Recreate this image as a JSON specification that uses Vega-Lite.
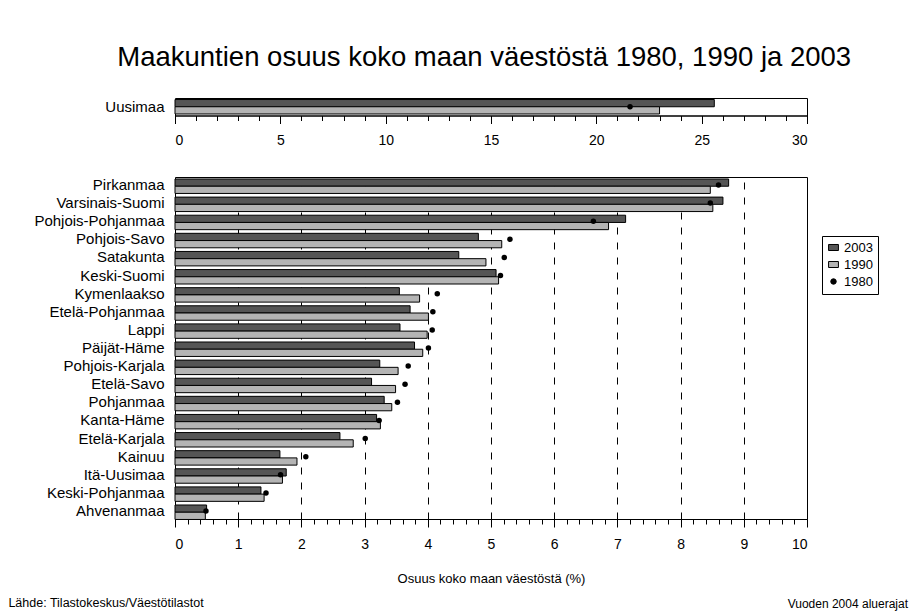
{
  "$schema": "https://vega.github.io/schema/vega-lite/v6.json",
  "background": "white",
  "padding": {"left": 8, "top": 44, "right": 10, "bottom": 2},
  "title": {
    "text": "Maakuntien osuus koko maan väestöstä 1980, 1990 ja 2003",
    "font": "Liberation Sans",
    "fontSize": 27.5,
    "fontWeight": "normal",
    "color": "black",
    "anchor": "middle",
    "dx": 26,
    "offset": 26
  },
  "datasets": {
    "uusimaa": [
      {"region": "Uusimaa", "year": "2003", "value": 25.6},
      {"region": "Uusimaa", "year": "1990", "value": 23.0},
      {"region": "Uusimaa", "year": "1980", "value": 21.6}
    ],
    "main": [
      {"region": "Pirkanmaa", "year": "2003", "value": 8.76},
      {"region": "Pirkanmaa", "year": "1990", "value": 8.47},
      {"region": "Pirkanmaa", "year": "1980", "value": 8.6},
      {"region": "Varsinais-Suomi", "year": "2003", "value": 8.67},
      {"region": "Varsinais-Suomi", "year": "1990", "value": 8.51},
      {"region": "Varsinais-Suomi", "year": "1980", "value": 8.47},
      {"region": "Pohjois-Pohjanmaa", "year": "2003", "value": 7.13},
      {"region": "Pohjois-Pohjanmaa", "year": "1990", "value": 6.86},
      {"region": "Pohjois-Pohjanmaa", "year": "1980", "value": 6.62},
      {"region": "Pohjois-Savo", "year": "2003", "value": 4.8},
      {"region": "Pohjois-Savo", "year": "1990", "value": 5.17},
      {"region": "Pohjois-Savo", "year": "1980", "value": 5.3},
      {"region": "Satakunta", "year": "2003", "value": 4.49},
      {"region": "Satakunta", "year": "1990", "value": 4.92},
      {"region": "Satakunta", "year": "1980", "value": 5.21},
      {"region": "Keski-Suomi", "year": "2003", "value": 5.08},
      {"region": "Keski-Suomi", "year": "1990", "value": 5.12},
      {"region": "Keski-Suomi", "year": "1980", "value": 5.15},
      {"region": "Kymenlaakso", "year": "2003", "value": 3.55},
      {"region": "Kymenlaakso", "year": "1990", "value": 3.87},
      {"region": "Kymenlaakso", "year": "1980", "value": 4.15},
      {"region": "Etelä-Pohjanmaa", "year": "2003", "value": 3.72},
      {"region": "Etelä-Pohjanmaa", "year": "1990", "value": 4.01},
      {"region": "Etelä-Pohjanmaa", "year": "1980", "value": 4.08},
      {"region": "Lappi", "year": "2003", "value": 3.56},
      {"region": "Lappi", "year": "1990", "value": 3.99},
      {"region": "Lappi", "year": "1980", "value": 4.07},
      {"region": "Päijät-Häme", "year": "2003", "value": 3.79},
      {"region": "Päijät-Häme", "year": "1990", "value": 3.92},
      {"region": "Päijät-Häme", "year": "1980", "value": 4.01},
      {"region": "Pohjois-Karjala", "year": "2003", "value": 3.24},
      {"region": "Pohjois-Karjala", "year": "1990", "value": 3.53},
      {"region": "Pohjois-Karjala", "year": "1980", "value": 3.69},
      {"region": "Etelä-Savo", "year": "2003", "value": 3.11},
      {"region": "Etelä-Savo", "year": "1990", "value": 3.49},
      {"region": "Etelä-Savo", "year": "1980", "value": 3.64},
      {"region": "Pohjanmaa", "year": "2003", "value": 3.31},
      {"region": "Pohjanmaa", "year": "1990", "value": 3.43},
      {"region": "Pohjanmaa", "year": "1980", "value": 3.52},
      {"region": "Kanta-Häme", "year": "2003", "value": 3.19},
      {"region": "Kanta-Häme", "year": "1990", "value": 3.25},
      {"region": "Kanta-Häme", "year": "1980", "value": 3.23},
      {"region": "Etelä-Karjala", "year": "2003", "value": 2.61},
      {"region": "Etelä-Karjala", "year": "1990", "value": 2.82},
      {"region": "Etelä-Karjala", "year": "1980", "value": 3.01},
      {"region": "Kainuu", "year": "2003", "value": 1.66},
      {"region": "Kainuu", "year": "1990", "value": 1.93},
      {"region": "Kainuu", "year": "1980", "value": 2.07},
      {"region": "Itä-Uusimaa", "year": "2003", "value": 1.76},
      {"region": "Itä-Uusimaa", "year": "1990", "value": 1.7},
      {"region": "Itä-Uusimaa", "year": "1980", "value": 1.67},
      {"region": "Keski-Pohjanmaa", "year": "2003", "value": 1.36},
      {"region": "Keski-Pohjanmaa", "year": "1990", "value": 1.41},
      {"region": "Keski-Pohjanmaa", "year": "1980", "value": 1.44},
      {"region": "Ahvenanmaa", "year": "2003", "value": 0.5},
      {"region": "Ahvenanmaa", "year": "1990", "value": 0.48},
      {"region": "Ahvenanmaa", "year": "1980", "value": 0.49}
    ]
  },
  "vconcat": [
    {
      "title": {
        "text": "Lähde: Tilastokeskus/Väestötilastot",
        "orient": "bottom",
        "anchor": "start",
        "frame": "bounds",
        "font": "Liberation Sans",
        "fontSize": 12.5,
        "fontWeight": "normal",
        "color": "black",
        "dx": -25,
        "offset": -13
      },
      "vconcat": [
        {
          "title": {
            "text": "Vuoden 2004 aluerajat",
            "orient": "bottom",
            "anchor": "end",
            "frame": "bounds",
            "font": "Liberation Sans",
            "fontSize": 12,
            "fontWeight": "normal",
            "color": "black",
            "dx": 100,
            "offset": 13
          },
          "spacing": 28,
          "vconcat": [
            {
              "width": 632,
              "height": 17.5,
              "data": {"name": "uusimaa"},
              "encoding": {
                "y": {
                  "field": "region", "type": "nominal", "title": null,
                  "scale": {"paddingInner": 0.05, "paddingOuter": 0.1},
                  "axis": {"ticks": false, "domain": false, "labelPadding": 11, "labelFontSize": 15}
                },
                "x": {
                  "field": "value", "type": "quantitative", "title": null,
                  "scale": {"domain": [0, 30], "nice": false},
                  "axis": {
                    "values": [0,1,2,3,4,5,6,7,8,9,10,11,12,13,14,15,16,17,18,19,20,21,22,23,24,25,26,27,28,29,30],
                    "labelExpr": "datum.value % 5 === 0 ? format(datum.value, 'd') : ''",
                    "tickSize": {"condition": {"test": "datum.value % 5 === 0", "value": 8}, "value": 5},
                    "grid": false,
                    "labelPadding": 10,
                    "labelFontSize": 14
                  }
                }
              },
              "layer": [
                {
                  "transform": [{"filter": "datum.year !== '1980'"}],
                  "mark": {"type": "bar", "stroke": "black", "strokeWidth": 1},
                  "encoding": {
                    "yOffset": {"field": "year", "type": "nominal", "scale": {"domain": ["2003", "1990"], "paddingInner": 0, "paddingOuter": 0}},
                    "color": {
                      "field": "year", "type": "ordinal", "title": null,
                      "scale": {"domain": ["2003", "1990", "1980"], "range": ["#555555", "#b4b4b4", "black"]}
                    }
                  }
                },
                {
                  "transform": [{"filter": "datum.year === '1980'"}],
                  "mark": {"type": "point", "filled": true, "opacity": 1, "size": 30},
                  "encoding": {
                    "color": {"field": "year", "type": "ordinal", "title": null, "scale": {"domain": ["2003", "1990", "1980"], "range": ["#555555", "#b4b4b4", "black"]}},
                    "shape": {"field": "year", "type": "ordinal", "title": null, "scale": {"domain": ["2003", "1990", "1980"], "range": ["M-1.8,-1.1H1.8V1.1H-1.8Z", "M-1.8,-1.1H1.8V1.1H-1.8Z", "circle"]}}
                  }
                }
              ]
            },
            {
              "width": 632,
              "height": 342,
              "data": {"name": "main"},
              "encoding": {
                "y": {
                  "field": "region", "type": "nominal", "title": null, "sort": null,
                  "scale": {"paddingInner": 0.337, "paddingOuter": 0.11},
                  "axis": {"ticks": false, "domain": false, "labelPadding": 11, "labelFontSize": 15}
                },
                "x": {
                  "field": "value", "type": "quantitative",
                  "title": "Osuus koko maan väestöstä (%)",
                  "scale": {"domain": [0, 10], "nice": false},
                  "axis": {
                    "values": [0,0.2,0.4,0.6,0.8,1,1.2,1.4,1.6,1.8,2,2.2,2.4,2.6,2.8,3,3.2,3.4,3.6,3.8,4,4.2,4.4,4.6,4.8,5,5.2,5.4,5.6,5.8,6,6.2,6.4,6.6,6.8,7,7.2,7.4,7.6,7.8,8,8.2,8.4,8.6,8.8,9,9.2,9.4,9.6,9.8,10],
                    "labelExpr": "datum.value % 1 === 0 ? format(datum.value, 'd') : ''",
                    "tickSize": {"condition": {"test": "datum.value % 1 === 0", "value": 8}, "value": 5},
                    "grid": true,
                    "gridColor": "black",
                    "gridDash": [7, 8],
                    "gridWidth": 1,
                    "gridOpacity": {"condition": {"test": "datum.value % 1 === 0 && datum.value > 0 && datum.value < 10", "value": 1}, "value": 0},
                    "labelPadding": 10,
                    "labelFontSize": 14,
                    "titleFontSize": 13,
                    "titleFontWeight": "normal",
                    "titlePadding": 21
                  }
                }
              },
              "layer": [
                {
                  "transform": [{"filter": "datum.year !== '1980'"}],
                  "mark": {"type": "bar", "stroke": "black", "strokeWidth": 1},
                  "encoding": {
                    "yOffset": {"field": "year", "type": "nominal", "scale": {"domain": ["2003", "1990"], "paddingInner": 0, "paddingOuter": 0}},
                    "color": {
                      "field": "year", "type": "ordinal", "title": null,
                      "scale": {"domain": ["2003", "1990", "1980"], "range": ["#555555", "#b4b4b4", "black"]}
                    }
                  }
                },
                {
                  "transform": [{"filter": "datum.year === '1980'"}],
                  "mark": {"type": "point", "filled": true, "opacity": 1, "size": 30},
                  "encoding": {
                    "color": {"field": "year", "type": "ordinal", "title": null, "scale": {"domain": ["2003", "1990", "1980"], "range": ["#555555", "#b4b4b4", "black"]}},
                    "shape": {"field": "year", "type": "ordinal", "title": null, "scale": {"domain": ["2003", "1990", "1980"], "range": ["M-1.8,-1.1H1.8V1.1H-1.8Z", "M-1.8,-1.1H1.8V1.1H-1.8Z", "circle"]}}
                  }
                }
              ]
            }
          ]
        }
      ]
    }
  ],
  "config": {
    "font": "Liberation Sans",
    "view": {"stroke": "black", "strokeWidth": 1},
    "axis": {
      "domainColor": "black",
      "tickColor": "black",
      "labelColor": "black",
      "titleColor": "black",
      "labelFont": "Liberation Sans",
      "titleFont": "Liberation Sans"
    },
    "legend": {
      "orient": "none",
      "legendX": 647,
      "legendY": 138,
      "strokeColor": "black",
      "padding": 5,
      "labelFontSize": 13,
      "labelColor": "black",
      "labelFont": "Liberation Sans",
      "symbolStrokeColor": "black",
      "symbolStrokeWidth": 1,
      "symbolSize": 30,
      "rowPadding": 3,
      "fillColor": "white"
    }
  }
}
